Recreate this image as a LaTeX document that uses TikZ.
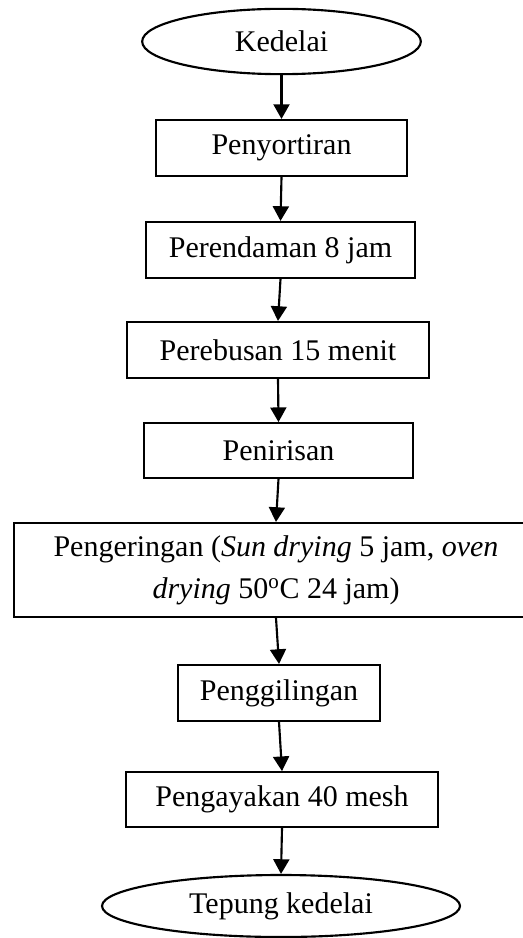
\documentclass[tikz,border=0pt]{standalone}
\usepackage{fontspec}
\setmainfont{Liberation Serif}
\usetikzlibrary{shapes.geometric,arrows.meta}

\begin{document}
\begin{tikzpicture}[x=0.75pt,y=0.75pt,yscale=-1,xscale=1,
    procbox/.style={draw, rectangle, line width=1.6pt, inner sep=0pt, align=center, font=\fontsize{22.5}{31.5}\selectfont},
    endoval/.style={draw, ellipse, line width=1.6pt, inner sep=0pt, font=\fontsize{22.5}{31.5}\selectfont},
    flowarrow/.style={line width=1.6pt, -{Triangle[length=11pt,width=12pt]}}]
    %set diagram to 523 x 938
    \useasboundingbox (0,0) rectangle (523,938);
    \clip (0,0) rectangle (523,938);

    %Shape: Ellipse [start]
    \node [endoval, minimum width=209pt, minimum height=49pt] (kedelai) at (281.5,41.5) {Kedelai};
    %Shape: Rectangle
    \node [procbox, minimum width=188pt, minimum height=42pt] (sortir) at (281.5,148) {Penyortiran};
    %Shape: Rectangle
    \node [procbox, minimum width=202pt, minimum height=42pt] (rendam) at (280.5,250) {Perendaman 8 jam};
    %Shape: Rectangle
    \node [procbox, minimum width=226pt, minimum height=42pt] (rebus) at (278,350) {Perebusan 15 menit};
    %Shape: Rectangle
    \node [procbox, minimum width=202pt, minimum height=41pt] (tiris) at (278.5,450.5) {Penirisan};
    %Shape: Rectangle (wide, runs past the right edge)
    \node [procbox, minimum width=393pt, minimum height=70.5pt] (kering) at (276,570)
        {Pengeringan (\textit{Sun drying} 5 jam, \textit{oven}\\\textit{drying} 50\textsuperscript{o}C 24 jam)};
    %Shape: Rectangle
    \node [procbox, minimum width=151.5pt, minimum height=42pt] (giling) at (279,693) {Penggilingan};
    %Shape: Rectangle
    \node [procbox, minimum width=234pt, minimum height=41pt] (ayak) at (282,799.5) {Pengayakan 40 mesh};
    %Shape: Ellipse [end]
    \node [endoval, minimum width=268.5pt, minimum height=46.5pt] (tepung) at (281,906) {Tepung kedelai};

    %Straight Lines
    \draw [flowarrow] (kedelai.south) -- (sortir.north);
    \draw [flowarrow] (sortir.south) -- (rendam.north);
    \draw [flowarrow] (rendam.south) -- (rebus.north);
    \draw [flowarrow] (rebus.south) -- (tiris.north);
    \draw [flowarrow] (tiris.south) -- (kering.north);
    \draw [flowarrow] (kering.south) -- (giling.north);
    \draw [flowarrow] (giling.south) -- (ayak.north);
    \draw [flowarrow] (ayak.south) -- (tepung.north);

\end{tikzpicture}
\end{document}
